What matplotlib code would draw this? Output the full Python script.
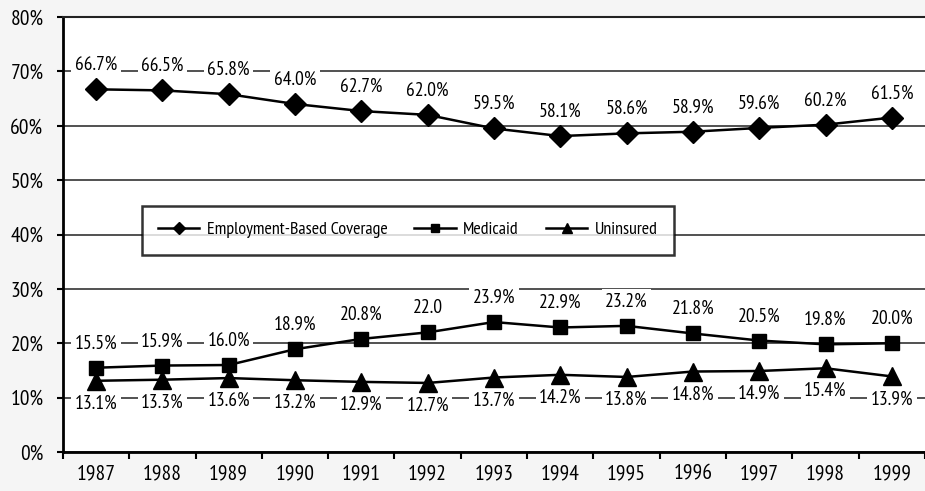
import matplotlib.pyplot as plt
import numpy as np

plt.rcParams["font.family"] = ["PT Sans Narrow", "Archivo Narrow", "DejaVu Sans"]

years = ["1987", "1988", "1989", "1990", "1991", "1992", "1993",
         "1994", "1995", "1996", "1997", "1998", "1999"]
employment = [66.7, 66.5, 65.8, 64.0, 62.7, 62.0, 59.5, 58.1, 58.6, 58.9, 59.6, 60.2, 61.5]
medicaid = [15.5, 15.9, 16.0, 18.9, 20.8, 22.0, 23.9, 22.9, 23.2, 21.8, 20.5, 19.8, 20.0]
uninsured = [13.1, 13.3, 13.6, 13.2, 12.9, 12.7, 13.7, 14.2, 13.8, 14.8, 14.9, 15.4, 13.9]
medicaid_labels = ["15.5%", "15.9%", "16.0%", "18.9%", "20.8%", "22.0", "23.9%",
                   "22.9%", "23.2%", "21.8%", "20.5%", "19.8%", "20.0%"]

fig = plt.figure(figsize=(9.25, 4.91), dpi=100, facecolor="#f5f5f5")
ax = fig.add_axes([0.068, 0.0794, 0.932, 0.886])
ax.set_facecolor("white")

x = np.arange(len(years))
ax.yaxis.grid(True, color="#222222", linewidth=1.1)
ax.set_axisbelow(True)

ax.plot(x, employment, color="black", lw=1.8, marker="D", ms=11,
        label="Employment-Based Coverage", zorder=3)
ax.plot(x, medicaid, color="black", lw=1.8, marker="s", ms=10,
        label="Medicaid", zorder=3)
ax.plot(x, uninsured, color="black", lw=1.8, marker="^", ms=13,
        label="Uninsured", zorder=3)

box = dict(facecolor="white", edgecolor="none", pad=2.5)
for i in x:
    ax.annotate(f"{employment[i]:.1f}%", (i, employment[i]), xytext=(0, 11),
                textcoords="offset points", ha="center", va="bottom",
                fontsize=14, bbox=box, zorder=2)
    ax.annotate(medicaid_labels[i], (i, medicaid[i]), xytext=(0, 11),
                textcoords="offset points", ha="center", va="bottom",
                fontsize=14, bbox=box, zorder=2)
    ax.annotate(f"{uninsured[i]:.1f}%", (i, uninsured[i]), xytext=(0, -10),
                textcoords="offset points", ha="center", va="top",
                fontsize=14, bbox=box, zorder=2)

ax.set_xlim(-0.5, len(years) - 0.5)
ax.set_ylim(0, 80)
ax.set_yticks(range(0, 81, 10))
ax.set_yticklabels([f"{v}%" for v in range(0, 81, 10)])
ax.set_xticks(x)
ax.set_xticklabels(years)
ax.set_xticks(np.arange(-0.5, len(years), 1), minor=True)
ax.tick_params(axis="x", which="major", length=0, labelsize=15.5, pad=9)
ax.tick_params(axis="x", which="minor", length=5, width=1.5, direction="out")
ax.tick_params(axis="y", length=4, width=1.5, labelsize=15.5, pad=10)

for s in ["left", "bottom"]:
    ax.spines[s].set_linewidth(2)
ax.spines["top"].set_linewidth(1.5)
ax.spines["top"].set_color("#222222")
ax.spines["right"].set_visible(False)

leg = ax.legend(loc="center", bbox_to_anchor=(0.40, 0.51), ncol=3,
                fontsize=13, frameon=True, fancybox=False, markerscale=0.6,
                handlelength=2.3, handletextpad=0.4, columnspacing=1.5,
                borderpad=0.9)
leg.get_frame().set_edgecolor("black")
leg.get_frame().set_linewidth(1.8)
leg.set_zorder(5)

fig.savefig("out.png", dpi=100, facecolor=fig.get_facecolor())
